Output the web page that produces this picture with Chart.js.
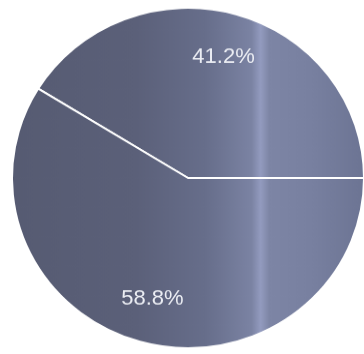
<!DOCTYPE html>
<html>
<head>
<meta charset="utf-8">
<script src="https://cdn.jsdelivr.net/npm/chart.js@4/dist/chart.umd.min.js"></script>
<style>
  html, body { margin: 0; padding: 0; background: #fff; overflow: hidden; }
</style>
</head>
<body>
<!-- drawn square, shown slightly squashed like the scan -->
<canvas id="pie" width="366" height="366" style="display:block;width:366px;height:354px"></canvas>
<script>
'use strict';

/* ---- Data ---- */
const labels = ['A', 'B'];
const values = [41.2, 58.8];
const valueLabels = ['41.2%', '58.8%'];

/* ---- Shared styles ---- */
const COLORS = {
  label: '#eceef4',
  edge:  '#ffffff',
};

// the scan is darker on the left and brighter towards a pale vertical band on the right
function scanFill(c) {
  const { ctx, chartArea } = c.chart;
  if (!chartArea) return '#626982';
  const g = ctx.createLinearGradient(chartArea.left, 0, chartArea.right, 0);
  g.addColorStop(0.00, '#565b72');
  g.addColorStop(0.35, '#5b6079');
  g.addColorStop(0.55, '#676e8b');
  g.addColorStop(0.68, '#7b83a3');
  g.addColorStop(0.705, '#939bbf');
  g.addColorStop(0.73, '#7d85a5');
  g.addColorStop(0.85, '#7880a0');
  g.addColorStop(1.00, '#6c7493');
  return g;
}

// draw the percentage text inside each slice
const sliceLabels = {
  id: 'sliceLabels',
  afterDatasetsDraw(chart) {
    const { ctx } = chart;
    const meta = chart.getDatasetMeta(0);
    ctx.save();
    ctx.fillStyle = COLORS.label;
    ctx.font = '22px "Liberation Sans", Arial, sans-serif';
    ctx.textAlign = 'center';
    ctx.textBaseline = 'middle';
    meta.data.forEach((arc, i) => {
      const { x, y, startAngle, endAngle, outerRadius } = arc.getProps(['x', 'y', 'startAngle', 'endAngle', 'outerRadius'], true);
      const mid = (startAngle + endAngle) / 2;
      const r = outerRadius * 0.74;
      ctx.fillText(valueLabels[i], x + Math.cos(mid) * r, y + Math.sin(mid) * r);
    });
    ctx.restore();
  }
};

const total = values.reduce((a, b) => a + b, 0);

new Chart(document.getElementById('pie'), {
  type: 'pie',
  data: {
    labels,
    datasets: [{
      data: values,
      backgroundColor: scanFill,
      borderColor: COLORS.edge,
      borderWidth: 2,
    }]
  },
  options: {
    responsive: false,
    animation: false,
    // first slice ends at 3 o'clock
    rotation: 90 - 360 * values[0] / total,
    layout: { padding: { left: 11, right: 1, top: 7, bottom: 5 } },
    plugins: {
      legend: { display: false },
      tooltip: { enabled: false }
    }
  },
  plugins: [sliceLabels]
});
</script>
</body>
</html>
